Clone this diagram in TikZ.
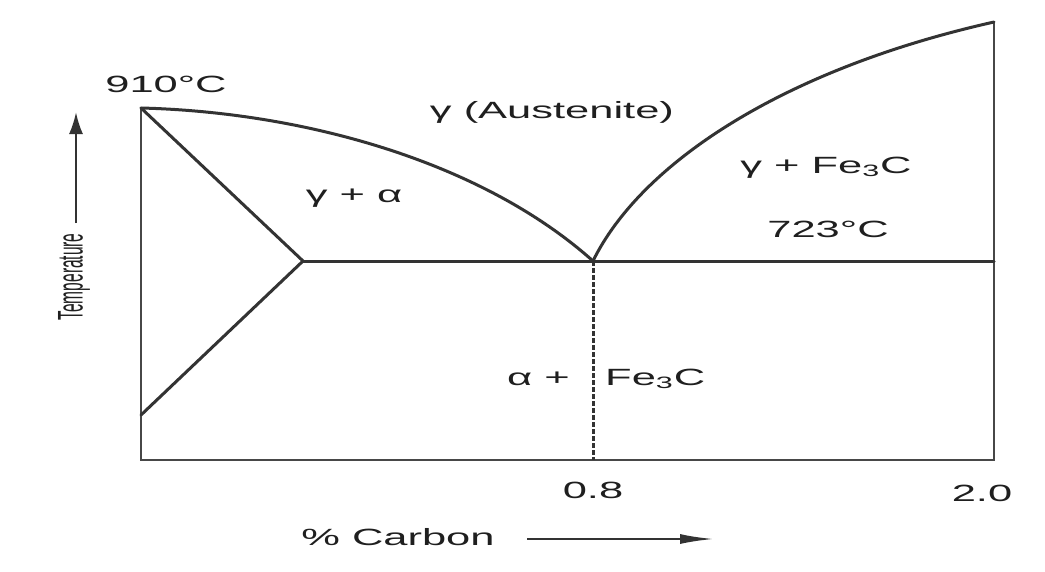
\documentclass[tikz,border=0pt]{standalone}
\usepackage{fontspec}
\usepackage{graphicx}
\setmainfont{Liberation Sans}
\usetikzlibrary{arrows.meta}
\newcommand{\wide}[1]{\scalebox{1.85}[1]{#1}}
\begin{document}
\begin{tikzpicture}[x=1pt,y=-1pt,
  lbl/.style={text=black!88, font=\fontsize{23.5}{26}\selectfont, inner sep=0pt, anchor=base},
  phase/.style={line width=3pt, draw=black!80, line cap=round},
  frame/.style={line width=2.6pt, draw=black!72},
  eut/.style={line width=3pt, draw=black!80, dash pattern=on 4.5pt off 2.5pt},
  axarrow/.style={line width=2.4pt, draw=black!80, -{Latex[length=34pt,width=10pt]}},
  taarrow/.style={line width=2.4pt, draw=black!80, -{Latex[length=22pt,width=14pt]}}
]
\useasboundingbox (0,0) rectangle (1045,571);
\fill[white] (0,0) rectangle (1045,571);
% key points
\coordinate (tl) at (141,108);
\coordinate (bl) at (141,460);
\coordinate (br) at (994,460);
\coordinate (tr) at (994,22);
\coordinate (apex) at (303,261);
\coordinate (low) at (141,415);
\coordinate (eu) at (593,261);
\coordinate (eb) at (593,460);
\coordinate (rh) at (994,261);
% frame
\draw[frame] (tl) -- (bl) -- (br) -- (tr);
% phase lines
\draw[phase] (tl) -- (apex) -- (low);
\draw[phase] (apex) -- (rh);
\draw[phase] (tl) .. controls (300,112) and (480,160) .. (eu);
\draw[phase] (eu) .. controls (640,165) and (780,70) .. (tr);
\draw[eut] (eu) -- (eb);
% labels
\node[lbl] (t910) at (166,92) {\wide{910°C}};
\node[lbl] (aus) at (552,118) {\wide{γ (Austenite)}};
\node[lbl] (ga) at (354,202) {\wide{γ + α}};
\node[lbl] (gf) at (826,173) {\wide{γ + Fe\textsubscript{3}C}};
\node[lbl] (t723) at (828,237) {\wide{723°C}};
\node[lbl, anchor=base east] (ap) at (570,385) {\wide{α +}};
\node[lbl, anchor=base west] (fc) at (605,385) {\wide{Fe\textsubscript{3}C}};
\node[lbl] (x08) at (593,498) {\wide{0.8}};
\node[lbl] (x20) at (982,501) {\wide{2.0}};
\node[lbl] (carb) at (398,545) {\wide{\% Carbon}};
\begin{scope}[shift={(74,277)}, xscale=2.3]
\node[text=black!88, inner sep=0pt, anchor=center, rotate=90, transform shape, font=\fontsize{15.5}{17}\selectfont] (temp) at (0,0) {Temperature};
\end{scope}
% axis arrows
\coordinate (ca0) at (527,539);
\coordinate (ca1) at (714,539);
\draw[axarrow] (ca0) -- (ca1);
\coordinate (ta0) at (76,223);
\coordinate (ta1) at (76,112);
\draw[taarrow] (ta0) -- (ta1);
\end{tikzpicture}
\end{document}
